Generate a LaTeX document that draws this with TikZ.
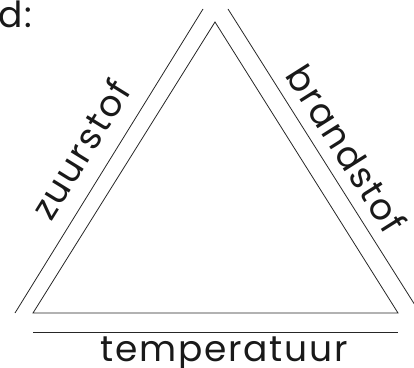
\documentclass[tikz,border=0pt]{standalone}
\usepackage{fontspec}
\setmainfont{Poppins}[LetterSpace=5]
\begin{document}
\begin{tikzpicture}[x=1pt,y=1pt,
  edge/.style={line width=0.8pt, draw=black!85},
  lbl/.style={inner sep=0pt, text=black!90, font=\fontsize{36}{42}\selectfont}]
\useasboundingbox (0,0) rectangle (414,367);
\clip (0,0) rectangle (414,367);
% inner triangle
\coordinate (A) at (33,54);
\coordinate (B) at (398,54);
\coordinate (C) at (215,345);
% outer lines
\coordinate (L1) at (15,54);
\coordinate (L2) at (203,358);
\coordinate (R1) at (228,358);
\coordinate (R2) at (420,54);
\coordinate (T1) at (33,35);
\coordinate (T2) at (398,35);
\draw[edge] (A) -- (B) -- (C) -- cycle;
\draw[edge] (L1) -- (L2);
\draw[edge] (R1) -- (R2);
\draw[edge] (T1) -- (T2);
\node[lbl, anchor=base west] (d) at (-2,339) {d:};
\node[lbl, anchor=base west] (temp) at (100,6) {temperatuur};
\node[lbl, anchor=base west, rotate=58.27] (zuur) at (51,144) {zuurstof};
\node[lbl, anchor=base west, rotate=-57.72] (brand) at (284,292) {brandstof};
\end{tikzpicture}
\end{document}
